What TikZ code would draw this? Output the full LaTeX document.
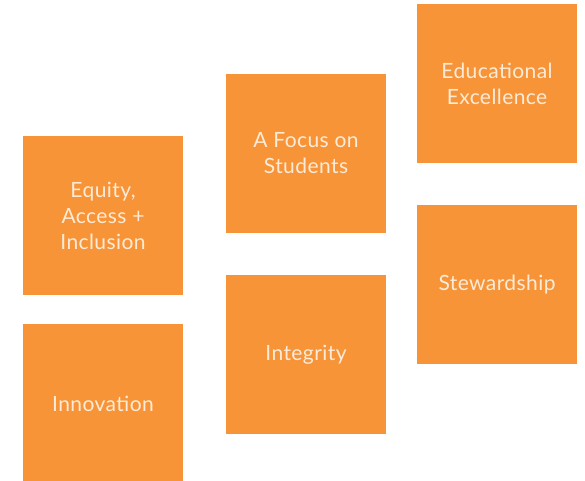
\documentclass[tikz,border=0pt]{standalone}
\usepackage{fontspec}
\setmainfont[LetterSpace=2]{Lato}
\definecolor{valueorange}{HTML}{F79438}
\definecolor{valuetext}{HTML}{FDEBD8}
\begin{document}
\begin{tikzpicture}[x=1pt,y=-1pt,
    valuebox/.style={fill=valueorange,draw=none,minimum width=160pt,minimum height=159pt,
      inner sep=0pt,align=center,text=valuetext,font=\fontsize{21}{26}\selectfont}]
                \clip (0,0) rectangle (585,480); % page size of the picture
                % left column
                \node[valuebox] (equity) at (103,215.5) {Equity,\\Access +\\Inclusion};
                \node[valuebox] (innovation) at (103,403.5) {Innovation};
                % middle column
                \node[valuebox] (focus) at (306,153.5) {A Focus on\\Students};
                \node[valuebox] (integrity) at (306,354.5) {Integrity};
                % right column
                \node[valuebox] (excellence) at (497,83.5) {Educational\\Excellence};
                \node[valuebox] (stewardship) at (497,284.5) {Stewardship};
                \end{tikzpicture}
\end{document}
